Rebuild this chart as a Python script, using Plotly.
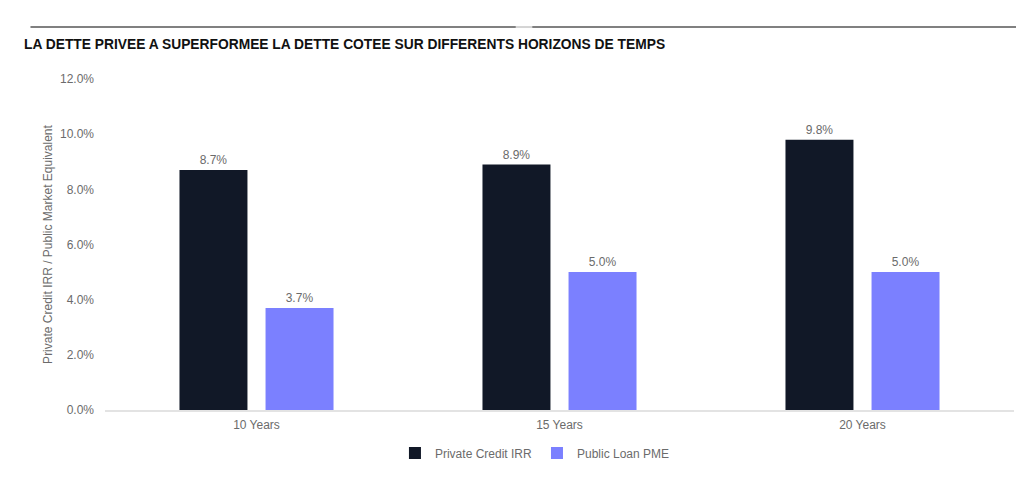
import plotly.graph_objects as go

horizons = ['10 Years', '15 Years', '20 Years']
private_credit_irr = [8.7, 8.9, 9.8]
public_loan_pme = [3.7, 5.0, 5.0]
y_ticks = [0, 2, 4, 6, 8, 10, 12]

title = 'LA DETTE PRIVEE A SUPERFORMEE LA DETTE COTEE SUR DIFFERENTS HORIZONS DE TEMPS'
grey = '#6b6b6b'

fig = go.Figure()
fig.add_trace(go.Bar(
    x=horizons, y=private_credit_irr, name='Private Credit IRR',
    marker=dict(color='#111827', line=dict(width=0)),
    text=[f'{v:.1f}%' for v in private_credit_irr], textposition='outside',
    textfont=dict(color=grey, size=12), cliponaxis=False,
))
fig.add_trace(go.Bar(
    x=horizons, y=public_loan_pme, name='Public Loan PME',
    marker=dict(color='#7b80ff', line=dict(width=0)),
    text=[f'{v:.1f}%' for v in public_loan_pme], textposition='outside',
    textfont=dict(color=grey, size=12), cliponaxis=False,
))

# page body has an 8px margin, so the figure is laid out 8px in from the corner
fig.update_layout(
    width=1024, height=482,
    margin=dict(l=97, r=18, t=71, b=80, autoexpand=False),
    paper_bgcolor='white', plot_bgcolor='white',
    font=dict(family='Liberation Sans, Arial, sans-serif', size=12, color=grey),
    barmode='group', bargap=0.432, bargroupgap=0.21,
    showlegend=True,
    legend=dict(orientation='h', x=0.473, xanchor='center', y=-0.13, yanchor='middle',
                font=dict(size=12, color=grey), itemwidth=30, traceorder='normal'),
)
fig.update_yaxes(
    range=[0, 12], tickvals=y_ticks, ticktext=[f'{v:.1f}%' for v in y_ticks],
    showgrid=False, zeroline=False, showline=False, ticks='', ticklabelstandoff=10,
    automargin=False,
    title=dict(text='Private Credit IRR / Public Market Equivalent', font=dict(size=12, color=grey), standoff=4),
)
fig.update_xaxes(
    showgrid=False, showline=True, linecolor='#e3e3e3', linewidth=2, ticks='',
    tickfont=dict(size=12, color=grey), ticklabelstandoff=3, automargin=False,
)

# top rule (two dark pieces with a faint join) and heading
for x0, x1, col in [(-0.082, 0.452, '#808080'), (0.452, 0.470, '#d4d4d4'), (0.470, 1.03, '#808080')]:
    fig.add_shape(type='line', xref='paper', yref='paper', x0=x0, x1=x1, y0=1.157, y1=1.157,
                  line=dict(color=col, width=2))
fig.add_annotation(text=f'<b>{title}</b>', xref='paper', yref='paper', x=-0.091, y=1.103,
                   xanchor='left', yanchor='middle', showarrow=False,
                   font=dict(family='Liberation Sans, Arial, sans-serif', size=13.8, color='#111111'))

fig.write_html('out.html')
